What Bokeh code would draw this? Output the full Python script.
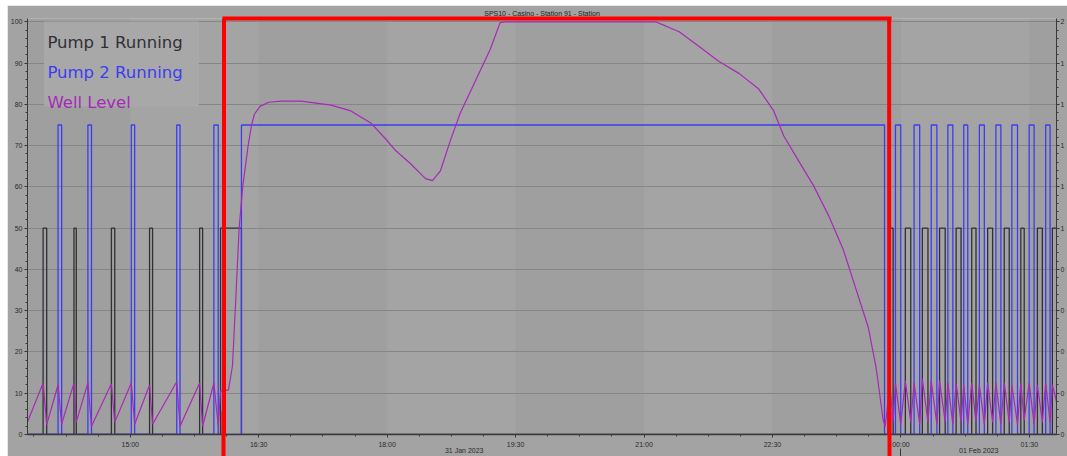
import pandas as pd
from bokeh.plotting import figure
from bokeh.layouts import column, row
from bokeh.models import (Range1d, LinearAxis, DatetimeAxis, FixedTicker, DatetimeTickFormatter,
                          BoxAnnotation, Label, ColumnDataSource, Spacer)
from bokeh.embed import file_html
from bokeh.resources import INLINE

BASE_DAY = "2023-01-31"
NEXT_DAY = "2023-02-01"

title_text = "SPS10 - Casino - Station 91 - Station"
x_start = "13:48:00"
x_end = "01:49:00"

x_tick_labels = ["15:00", "16:30", "18:00", "19:30", "21:00", "22:30", "00:00", "01:30"]
date_labels = ["31 Jan 2023", "01 Feb 2023"]
date_label_times = ["18:54:00", "00:54:30"]
day_boundary = "00:00:00"

y_ticks = [0, 10, 20, 30, 40, 50, 60, 70, 80, 90, 100]
y_top = 100.8
right_tick_labels = ["0", "0", "0", "0", "0", "1", "1", "1", "1", "1", "2"]

legend_labels = ["Pump 1 Running", "Pump 2 Running", "Well Level"]
series_colors = ["#303036", "#3c3cf5", "#a62ab8"]

pump1_high = 50
pump1_on = ["13:58:56", "14:20:34", "14:46:47", "15:13:32", "15:48:36", "16:03:15",
            "23:52:13", "00:03:05", "00:15:00", "00:27:04", "00:38:40", "00:49:36",
            "01:00:45", "01:12:23", "01:24:00", "01:35:37", "01:46:07"]
pump1_off = ["14:01:27", "14:22:10", "14:49:08", "15:15:38", "15:50:42", "16:17:54",
             "23:54:32", "00:06:53", "00:18:56", "00:31:00", "00:42:08", "00:52:36",
             "01:04:14", "01:15:52", "01:26:22", "01:39:06", "01:52:00"]

pump2_high = 75
pump2_on = ["14:09:24", "14:30:19", "15:00:43", "15:32:34", "15:58:35", "16:17:54",
            "23:56:08", "00:09:13", "00:21:13", "00:32:52", "00:44:01", "00:54:58",
            "01:06:32", "01:17:43", "01:29:50", "01:41:25"]
pump2_off = ["14:11:55", "14:32:50", "15:03:05", "15:34:52", "16:01:39", "23:48:30",
             "23:59:53", "00:13:08", "00:25:11", "00:36:22", "00:46:49", "00:58:27",
             "01:10:01", "01:21:41", "01:33:19", "01:44:30"]

level_times = [
    "13:48:00", "13:58:56", "14:01:27", "14:09:24", "14:11:55", "14:20:34", "14:22:10",
    "14:30:19", "14:32:50", "14:46:47", "14:49:08", "15:00:43", "15:03:05", "15:13:32",
    "15:15:38", "15:32:34", "15:34:52", "15:48:36", "15:50:42", "15:58:35", "16:01:39",
    "16:03:15", "16:08:50", "16:11:37", "16:13:42", "16:16:17", "16:18:48", "16:22:35",
    "16:24:52", "16:27:00", "16:30:56", "16:37:00", "16:45:47",
    "16:59:43", "17:20:38", "17:34:35", "17:48:32", "17:59:00", "18:05:56", "18:16:24",
    "18:26:52", "18:31:44", "18:37:19", "18:44:17", "18:51:15", "19:01:43", "19:12:11",
    "19:19:10", "19:22:00", "21:08:00", "21:15:00", "21:24:38", "21:38:35", "21:52:31",
    "22:06:29", "22:20:25", "22:30:52", "22:37:50", "22:48:18", "22:58:45", "23:09:14",
    "23:19:42", "23:30:07", "23:37:06", "23:42:41", "23:47:34", "23:49:00",
    "23:52:13", "23:54:32", "23:56:08", "23:59:53", "00:03:05", "00:06:53", "00:09:13",
    "00:13:08", "00:15:00", "00:18:56", "00:21:13", "00:25:11", "00:27:04", "00:31:00",
    "00:32:52", "00:36:22", "00:38:40", "00:42:08", "00:44:01", "00:46:49", "00:49:36",
    "00:52:36", "00:54:58", "00:58:27", "01:00:45", "01:04:14", "01:06:32", "01:10:01",
    "01:12:23", "01:15:52", "01:17:43", "01:21:41", "01:24:00", "01:26:22", "01:29:50",
    "01:33:19", "01:35:37", "01:39:06", "01:41:25", "01:44:30", "01:46:07", "01:49:00",
]
level_values = [
    3.0, 12.5, 2.4, 12.0, 2.5, 12.5, 3.0,
    12.5, 2.0, 12.3, 3.0, 12.5, 2.5, 12.0,
    2.5, 12.8, 2.0, 12.5, 2.0, 12.5, 2.0,
    10.5, 10.8, 16.6, 31.0, 50.0, 60.0, 70.0,
    74.8, 77.6, 79.5, 80.5, 80.8,
    80.8, 79.8, 78.4, 75.5, 71.6, 68.8, 65.6,
    62.0, 61.5, 63.9, 71.2, 77.9, 85.6, 93.3,
    99.8, 100.0, 100.0, 99.0, 97.6, 94.0, 90.4,
    87.5, 83.7, 78.4, 72.4, 66.3, 60.3, 53.1,
    44.7, 33.5, 26.0, 16.0, 3.5, 2.0,
    12.0, 3.0, 12.5, 2.5, 13.0, 3.0, 12.5,
    2.5, 13.5, 3.0, 13.0, 2.5, 13.0, 3.0,
    12.5, 2.5, 12.5, 3.0, 12.0, 2.5, 12.5,
    3.0, 12.0, 2.5, 12.5, 3.0, 12.5, 2.5,
    12.5, 3.0, 12.0, 2.5, 12.5, 3.5, 12.5,
    2.5, 12.0, 3.0, 12.5, 3.0, 12.0, 8.0,
]

# annotation / layout constants
highlight_start = "16:05:41"
highlight_end = "23:51:45"
legend_box_left = "13:59:51"
legend_box_right = "15:47:55"
legend_text_x = "14:01:56"
legend_text_y = [95.0, 87.7, 80.5]


def ms(hms):
    day = NEXT_DAY if int(hms[:2]) < 12 else BASE_DAY
    return pd.Timestamp(f"{day} {hms}").value / 1e6


def step_series(ons, offs, high):
    xs, ys = [ms(x_start)], [0]
    for a, b in zip(ons, offs):
        xs += [ms(a), ms(a), ms(b), ms(b)]
        ys += [0, high, high, 0]
    if xs[-1] < ms(x_end):
        xs.append(ms(x_end))
        ys.append(0)
    return xs, ys


x0, x1 = ms(x_start), ms(x_end)
tick_ms = [ms(t + ":00") for t in x_tick_labels]
step = (tick_ms[1] - tick_ms[0]) / 4
minor_ms = sorted({t + k * step for t in tick_ms for k in range(-3, 4) if x0 <= t + k * step <= x1})

p = figure(width=1060, height=451, x_axis_type="datetime",
           x_range=Range1d(x0, x1), y_range=Range1d(0, y_top),
           output_backend="svg", toolbar_location=None,
           min_border_left=18, min_border_right=8, min_border_top=12, min_border_bottom=20)
p.background_fill_color = "#a2a2a2"
p.border_fill_color = "#a3a3a3"
p.outline_line_color = None

p.title.text = title_text
p.title.align = "center"
p.title.text_font = "Liberation Sans"
p.title.text_font_size = "7px"
p.title.text_font_style = "normal"
p.title.text_color = "#222222"
p.title.standoff = 4

# alternating background bands
edges = [x0] + tick_ms + [x1]
band_src = ColumnDataSource(dict(
    left=edges[:-1], right=edges[1:],
    color=["#9f9f9f" if i % 2 == 0 else "#a4a4a4" for i in range(len(edges) - 1)]))
p.quad(left="left", right="right", bottom=0, top=y_top, fill_color="color",
       line_color=None, source=band_src, level="image")

# axes
xa = p.xaxis[0]
ya = p.yaxis[0]
xa.ticker = FixedTicker(ticks=tick_ms, minor_ticks=minor_ms)
xa.formatter = DatetimeTickFormatter(seconds="%H:%M", minsec="%H:%M", minutes="%H:%M",
                                     hourmin="%H:%M", hours="%H:%M", days="%H:%M")
ya.ticker = FixedTicker(ticks=y_ticks, minor_ticks=list(range(0, 101, 2)))
p.xgrid.visible = False
p.ygrid.ticker = FixedTicker(ticks=y_ticks)
p.ygrid.grid_line_color = "#868686"
p.ygrid.grid_line_width = 1

p.extra_y_ranges = {"pump": Range1d(0, y_top / 10)}
raxis = LinearAxis(y_range_name="pump",
                   ticker=FixedTicker(ticks=list(range(11)), minor_ticks=[i * 0.2 for i in range(51)]),
                   major_label_overrides={i: lab for i, lab in enumerate(right_tick_labels)})
p.add_layout(raxis, "right")

for ax in [xa, ya, raxis]:
    ax.axis_line_color = "#3a3a3a"
    ax.major_tick_line_color = "#3a3a3a"
    ax.minor_tick_line_color = "#3a3a3a"
    ax.major_tick_in = 0
    ax.minor_tick_in = 0
    ax.major_tick_out = 3
    ax.minor_tick_out = 2
    ax.major_label_text_font = "Liberation Sans"
    ax.major_label_text_font_size = "7px"
    ax.major_label_text_color = "#2a2a2a"
    ax.major_label_standoff = 2
xa.axis_line_width = 1.5
xa.major_label_standoff = 3
raxis.major_label_standoff = 1

# date row below the time labels (second datetime axis, no ticks)
date_ticks = [ms(t) for t in date_label_times]
fmt = "%d %b %Y"
date_axis = DatetimeAxis(
    ticker=FixedTicker(ticks=date_ticks, minor_ticks=[]),
    formatter=DatetimeTickFormatter(seconds=fmt, minsec=fmt, minutes=fmt, hourmin=fmt,
                                    hours=fmt, days=fmt, months=fmt, years=fmt),
    major_label_overrides={int(t): lab for t, lab in zip(date_ticks, date_labels)},
    axis_line_color=None, major_tick_line_color=None, minor_tick_line_color=None,
    major_tick_in=0, major_tick_out=0, minor_tick_in=0, minor_tick_out=0,
    major_label_text_font="Liberation Sans", major_label_text_font_size="7px",
    major_label_text_color="#2a2a2a", major_label_standoff=-4)
p.add_layout(date_axis, "below")

# day boundary marker: a tick rising from the bottom edge under 00:00
day_axis = DatetimeAxis(ticker=FixedTicker(ticks=[], minor_ticks=[ms(day_boundary)]),
                        axis_line_color=None, major_tick_line_color=None,
                        major_tick_in=0, major_tick_out=0,
                        minor_tick_line_color="#3a3a3a", minor_tick_line_width=1,
                        minor_tick_in=8, minor_tick_out=0, major_label_standoff=0)
p.add_layout(day_axis, "below")

# series
srcs = [step_series(pump1_on, pump1_off, pump1_high),
        step_series(pump2_on, pump2_off, pump2_high),
        ([ms(t) for t in level_times], level_values)]
widths = [1.3, 1.3, 1.2]
for (xs, ys), col, w in zip(srcs, series_colors, widths):
    p.line(xs, ys, line_color=col, line_width=w)

# legend (text only, coloured per series)
p.add_layout(BoxAnnotation(left=ms(legend_box_left), right=ms(legend_box_right),
                           top=100, bottom=79.6, fill_color="#a8a8a8", fill_alpha=1.0,
                           line_color="#b2b2b2", line_width=1))
for lab, col, yy in zip(legend_labels, series_colors, legend_text_y):
    p.add_layout(Label(x=ms(legend_text_x), y=yy, text=lab, text_color=col,
                       text_font="DejaVu Sans", text_font_size="16.5px",
                       text_baseline="alphabetic"))

# red highlight rectangle: sides inside the frame ...
p.add_layout(BoxAnnotation(left=ms(highlight_start), right=ms(highlight_end), top=200, bottom=-30,
                           fill_color=None, fill_alpha=0, line_color="#ff0000",
                           line_width=4, line_alpha=1.0))
# ... top edge along the frame top ...
red_pad = 80000
red_top = DatetimeAxis(ticker=FixedTicker(ticks=[], minor_ticks=[]),
                       bounds=(ms(highlight_start) - red_pad, ms(highlight_end) + red_pad),
                       axis_line_color="#ff0000", axis_line_width=4,
                       major_tick_line_color=None, minor_tick_line_color=None,
                       major_tick_out=0, minor_tick_out=0, major_label_standoff=0)
p.add_layout(red_top, "above")
# ... and sides continued down through the axis labels to the bottom edge
red_bottom = DatetimeAxis(ticker=FixedTicker(ticks=[], minor_ticks=[ms(highlight_start), ms(highlight_end)]),
                          axis_line_color=None, major_tick_line_color=None,
                          major_tick_in=0, major_tick_out=0,
                          minor_tick_line_color="#ff0000", minor_tick_line_width=4,
                          minor_tick_in=45, minor_tick_out=0, major_label_standoff=0)
p.add_layout(red_bottom, "below")

layout = column(Spacer(width=1067, height=5), row(Spacer(width=7, height=451), p))
open("out.html", "w").write(file_html(layout, INLINE))
